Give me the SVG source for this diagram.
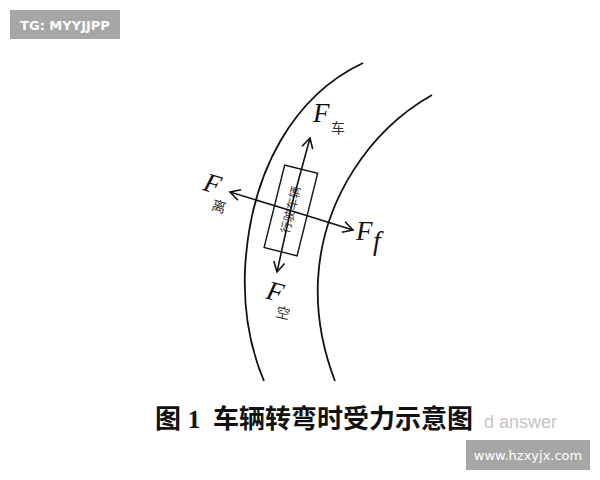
<svg xmlns="http://www.w3.org/2000/svg" width="600" height="480" viewBox="0 0 600 480">
<defs>
<marker id="arr" viewBox="-12 -7 14 14" refX="0" refY="0" markerWidth="14" markerHeight="14" markerUnits="userSpaceOnUse" orient="auto-start-reverse">
<path d="M-10,-5.5 L0,0 L-10,5.5" fill="none" stroke="#111" stroke-width="1.6"/>
</marker>
<style>
.road{fill:none;stroke:#111;stroke-width:1.8}
.force{stroke:#111;stroke-width:1.6;fill:none}
.F{font-family:"Liberation Serif",serif;font-style:italic;font-size:27px;fill:#111}
.sub{font-family:"Liberation Serif","Noto Sans CJK SC",serif;font-size:14px;fill:#333}
.badge{fill:#a6a6a6}
.btxt{font-family:"DejaVu Sans","Liberation Sans",sans-serif;font-size:13px;fill:#fff}
</style>
</defs>
<rect width="600" height="480" fill="#fff"/>
<g id="badge-tg">
<rect class="badge" x="10" y="10" width="110" height="29"/>
<text class="btxt" x="65" y="29.5" text-anchor="middle" font-size="12.5" font-weight="bold">TG: MYYJJPP</text>
</g>
<g id="road">
<path class="road" d="M363,63 C295,95 250,170 245,270 C243,320 253,355 264,381"/>
<path class="road" d="M432,95 C370,130 322,200 318,280 C316,320 325,355 335,381"/>
</g>
<g id="vehicle">
<rect x="274" y="168" width="34" height="85" transform="rotate(14 291 210)" fill="none" stroke="#111" stroke-width="1.4"/>
<text x="291" y="214" transform="rotate(-76 291 210)" text-anchor="middle" font-family="Noto Sans CJK SC,sans-serif" font-size="12" fill="#333">行驶车辆</text>
</g>
<g id="connectors">
<line class="force" x1="292" y1="204" x2="310" y2="138" marker-end="url(#arr)"/>
<line class="force" x1="292" y1="204" x2="277" y2="272" marker-end="url(#arr)"/>
<line class="force" x1="292" y1="211" x2="230" y2="192" marker-end="url(#arr)"/>
<line class="force" x1="292" y1="211" x2="353" y2="230" marker-end="url(#arr)"/>
</g>
<g id="label-Fche">
<text class="F" x="313" y="122">F</text>
<text class="sub" x="331" y="133">车</text>
</g>
<g id="label-Fli" transform="rotate(17 212 195)">
<text class="F" x="201" y="193">F</text>
<text class="sub" x="215" y="209">离</text>
</g>
<g id="label-Ff">
<text class="F" x="356" y="240">F</text>
<text class="F" x="373" y="250" font-size="12">f</text>
</g>
<g id="label-Fkong" transform="rotate(14 280 300)">
<text class="F" x="265" y="302">F</text>
<text class="sub" x="279" y="317">空</text>
</g>
<g id="caption">
<text x="484" y="428" font-family="Liberation Sans,sans-serif" font-size="18" fill="#c4c4c4">d answer</text>
<text x="155" y="428" font-family="Liberation Serif,Noto Sans CJK SC,serif" font-weight="bold" font-size="26" fill="#111">图 1</text>
<text x="213" y="428" font-family="Noto Sans CJK SC,sans-serif" font-weight="bold" font-size="26" fill="#111">车辆转弯时受力示意图</text>
</g>
<g id="badge-web">
<rect class="badge" x="466" y="440" width="124" height="30"/>
<text class="btxt" x="528" y="460" text-anchor="middle">www.hzxyjx.com</text>
</g>
</svg>
